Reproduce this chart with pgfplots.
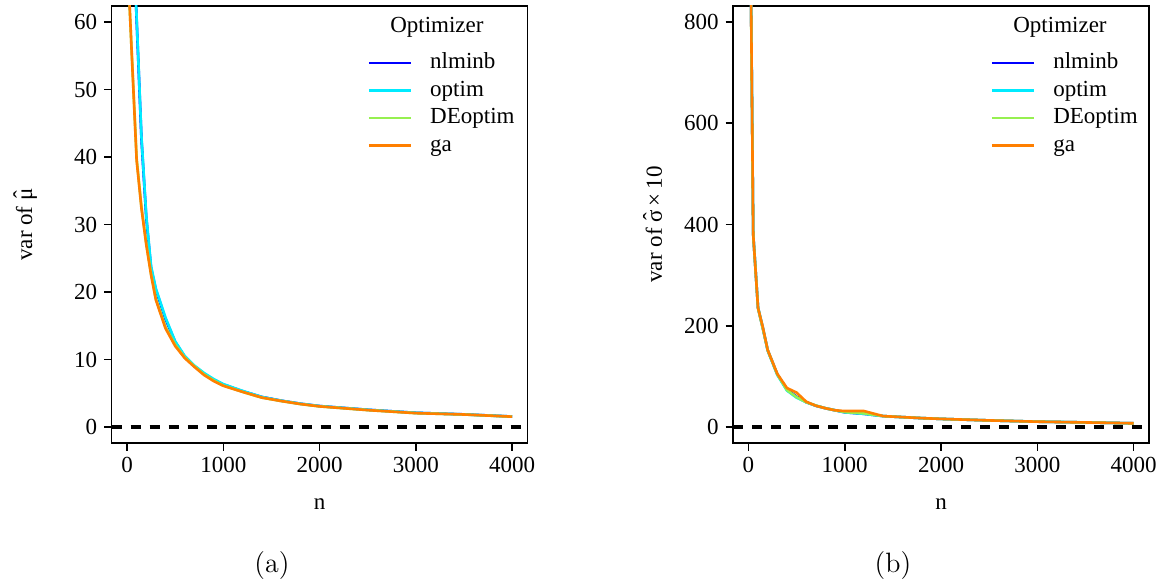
\documentclass[border=0pt]{standalone}
\usepackage{fontspec}
\setmainfont{Liberation Serif}
\usepackage{pgfplots}
\pgfplotsset{compat=1.18}

\definecolor{cNlminb}{RGB}{0,0,255}
\definecolor{cOptim}{RGB}{0,235,255}
\definecolor{cDE}{RGB}{150,240,80}
\definecolor{cGa}{RGB}{255,127,0}

\newcommand{\rfont}{\fontsize{11.5}{13}\selectfont}
% hat placed centrally over a lowercase letter
\newcommand{\hatted}[1]{\ooalign{#1\cr\hidewidth\raisebox{0.12em}{ˆ}\hidewidth\cr}}

\pgfplotsset{
  rplot/.style={
    scale only axis, width=208pt, height=218.7pt,
    xmin=-160, xmax=4160,
    xtick={0,1000,2000,3000,4000},
    scaled ticks=false,
    axis line style={line width=0.8pt},
    tick style={line width=0.8pt, black},
    tick align=outside, major tick length=3.7pt,
    xtick pos=bottom, ytick pos=left,
    ticklabel style={font=\rfont},
    /pgf/number format/assume math mode=true,
    /pgf/number format/set thousands separator={},
    label style={font=\rfont},
    xlabel style={at={(axis description cs:0.5,-0.152)}, anchor=base},
    every axis plot/.append style={line width=1.3pt, mark=none},
    legend style={draw=none, fill=none, anchor=north west,
      font=\rfont, inner sep=0pt, outer sep=0pt,
      row sep=3.25pt, column sep=9pt,
      nodes={inner sep=0pt, text height=8pt, text depth=2.5pt}},
    legend image code/.code={\draw[#1, line width=1.4pt] (0pt,0pt) -- (21pt,0pt);},
    legend cell align=left,
  },
  zeroline/.style={black, dash pattern=on 5pt off 4.5pt, line width=1.7pt, forget plot},
}

\begin{document}
\begin{tikzpicture}
\useasboundingbox (0,0) rectangle (583.5pt,291pt);

% ---------------- (a) variance of mu-hat ----------------
\begin{axis}[rplot,
  at={(55.8pt,69.4pt)}, anchor=south west,
  ymin=-2.4, ymax=62.4, ytick={0,10,...,60},
  xlabel={n}, ylabel={var of \hatted{μ}},
  ylabel style={at={(axis description cs:-0.191,0.5)}, anchor=base},
  legend style={at={(0.615,0.893)}},
]
\addplot[zeroline] coordinates {(-160,0) (4160,0)};
\addplot[cNlminb] table {
50 78
100 60.3
150 42.7
200 31.0
250 23.5
300 20.3
400 16.0
500 12.6
600 10.4
700 9.0
800 7.9
900 7.0
1000 6.3
1200 5.3
1400 4.45
1600 3.9
1800 3.45
2000 3.1
2500 2.55
3000 2.1
3500 1.87
4000 1.55
};
\addlegendentry{nlminb}
\addplot[cOptim] table {
50 78.5
100 60.6
150 43.0
200 31.3
250 23.8
300 20.5
400 16.2
500 12.7
600 10.5
700 9.1
800 8.0
900 7.1
1000 6.35
1200 5.35
1400 4.45
1600 3.9
1800 3.45
2000 3.1
2500 2.55
3000 2.1
3500 1.86
4000 1.55
};
\addlegendentry{optim}
\addplot[cDE] table {
10 67.5
50 55.3
100 39.8
150 32.6
200 27.2
250 22.7
300 19.0
400 14.8
500 12.2
600 10.3
700 9.0
800 7.8
900 6.9
1000 6.15
1200 5.2
1400 4.35
1600 3.85
1800 3.4
2000 3.05
2500 2.5
3000 2.05
3500 1.85
4000 1.53
};
\addlegendentry{DEoptim}
\addplot[cGa] table {
10 68
50 55
100 39.5
150 32.4
200 27.0
250 22.5
300 18.8
400 14.6
500 12.0
600 10.2
700 8.9
800 7.7
900 6.8
1000 6.1
1200 5.2
1400 4.35
1600 3.85
1800 3.4
2000 3.05
2500 2.5
3000 2.05
3500 1.85
4000 1.53
};
\addlegendentry{ga}
\node[font=\rfont] at (rel axis cs:0.782,0.950) {Optimizer};
\end{axis}

% ---------------- (b) variance of sigma-hat x 10 ----------------
\begin{axis}[rplot,
  at={(366.5pt,69.4pt)}, anchor=south west,
  ymin=-32, ymax=832, ytick={0,200,...,800},
  xlabel={n}, ylabel={var of \hatted{σ}\,×\,10},
  ylabel style={at={(axis description cs:-0.171,0.5)}, anchor=base},
  legend style={at={(0.619,0.893)}},
]
\addplot[zeroline] coordinates {(-160,0) (4160,0)};
\addplot[cNlminb] table {
10 1200
50 380
100 235
150 195
200 152
300 104
400 74
500 60
600 49
700 42
800 37
900 33
1000 29
1200 26
1400 21.5
1600 19.5
1800 17.5
2000 16
2500 13
3000 10.5
3500 9
4000 7.3
};
\addlegendentry{nlminb}
\addplot[cOptim] table {
10 1210
50 382
100 236
150 196
200 151
300 103
400 72
500 58
600 49
700 42
800 37
900 33
1000 29
1200 26
1400 21.5
1600 19.4
1800 17.5
2000 16
2500 13
3000 10.6
3500 9.1
4000 7.2
};
\addlegendentry{optim}
\addplot[cDE] table {
10 1190
50 378
100 234
150 194
200 152
300 104
400 73
500 59
600 49
700 42.5
800 37
900 33
1000 29.5
1200 27
1400 21.5
1600 19.5
1800 17.6
2000 16
2500 13
3000 10.5
3500 9
4000 7.3
};
\addlegendentry{DEoptim}
\addplot[cGa] table {
10 1200
50 380
100 235
150 197
200 152
300 105
400 77
500 68
600 50
700 42
800 37
900 33
1000 31.5
1200 31.5
1400 21.5
1600 19.5
1800 17.5
2000 16
2500 13
3000 10.5
3500 9
4000 7.3
};
\addlegendentry{ga}
\node[font=\rfont] at (rel axis cs:0.786,0.950) {Optimizer};
\end{axis}

% subfigure captions
\node[font=\fontfamily{lmr}\fontsize{14}{16}\selectfont] at (136pt,8pt) {(a)};
\node[font=\fontfamily{lmr}\fontsize{14}{16}\selectfont] at (446.5pt,8pt) {(b)};
\end{tikzpicture}
\end{document}
